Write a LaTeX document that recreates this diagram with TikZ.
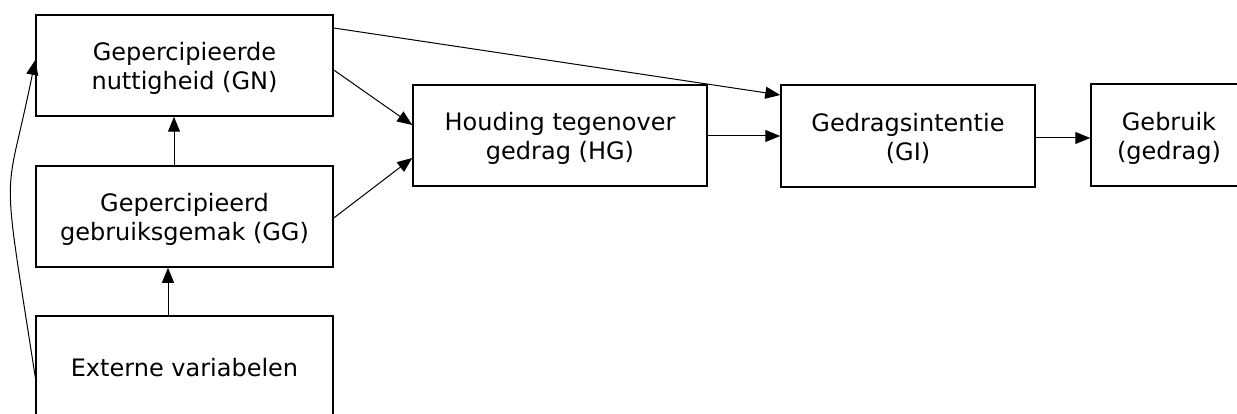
\documentclass[tikz,border=0pt]{standalone}
\usepackage{fontspec}
\setmainfont{DejaVu Sans}
\usetikzlibrary{arrows.meta}
\newcommand\lbltwo[1]{\raisebox{-4pt}[\height][\depth]{\begin{tabular}{@{}c@{}}#1\end{tabular}}}
\begin{document}
\begin{tikzpicture}[x=1pt,y=-1pt,
  box/.style={draw=black,line width=1.5pt,rectangle,inner sep=0pt,
    font=\fontsize{24}{29}\selectfont},
  arr/.style={draw=black,line width=1pt,-{Triangle[length=15pt,width=12pt]}}]
\useasboundingbox (0,0) rectangle (1237,414);
\node[box,minimum width=297pt,minimum height=101pt] (GN) at (184.5,65.5) {\lbltwo{Gepercipieerde\\nuttigheid (GN)}};
\node[box,minimum width=297pt,minimum height=101pt] (GG) at (184.5,216.5) {\lbltwo{Gepercipieerd\\gebruiksgemak (GG)}};
\node[box,minimum width=297pt,minimum height=104pt] (EV) at (184.5,368) {Externe variabelen};
\node[box,minimum width=294pt,minimum height=101pt] (HG) at (560,135.5) {\lbltwo{Houding tegenover\\gedrag (HG)}};
\node[box,minimum width=254pt,minimum height=102pt] (GI) at (908,136) {\lbltwo{Gedragsintentie\\(GI)}};
\node[box,minimum width=156pt,minimum height=102pt] (GB) at (1169,135) {\lbltwo{Gebruik\\(gedrag)}};
\draw[arr] (GG.north -| 174,0) -- (GN.south -| 174,0);
\draw[arr] (EV.north -| 168,0) -- (GG.south -| 168,0);
\draw[arr] (GN.east |- 0,70) -- (HG.west |- 0,125);
\draw[arr] (GG.east |- 0,218) -- (HG.west |- 0,158);
\draw[arr] (GN.east |- 0,28) -- (GI.west |- 0,95);
\draw[arr] (HG.east |- 0,136) -- (GI.west |- 0,136);
\draw[arr] (GI.east |- 0,138) -- (GB.west |- 0,138);
\draw[arr] (EV.west |- 0,377) .. controls (0,150) and (5,210) .. (GN.west |- 0,60);
\end{tikzpicture}
\end{document}
